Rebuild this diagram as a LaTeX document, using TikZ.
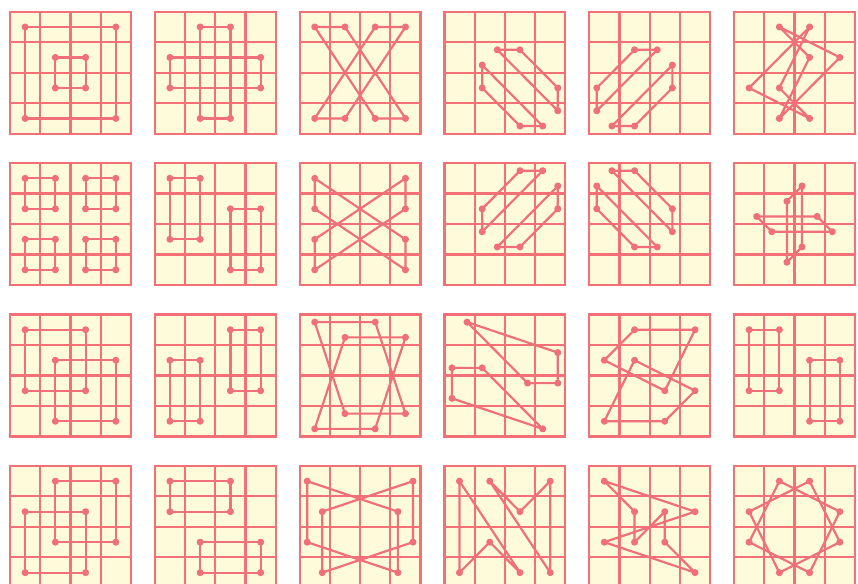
\documentclass[tikz,border=0pt]{standalone}
\usepackage{tikz}
\usepackage{xcolor}
\definecolor{paper}{RGB}{254,251,218}
\definecolor{gridred}{RGB}{242,112,118}
\definecolor{figred}{RGB}{240,112,120}
% one squared panel: column, row, figures (quarter-cell units, y downwards)
\newcommand{\panel}[3]{%
  \begin{scope}[shift={(10+144.8*#1,11.7+151.4*#2)}]
  \begin{scope}[x=0.15125cm,y=-0.1525cm]
    \fill[paper] (0,0) rectangle (16,16);
    \foreach \k in {0,4,8,12,16} {
      \draw[gridline] (\k,0) -- (\k,16);
      \draw[gridline] (0,\k) -- (16,\k);
    }
    #3
  \end{scope}
  \end{scope}}
\newcommand{\poly}[1]{\draw[figline] plot[mark=*] coordinates {#1} -- cycle;}

\begin{document}
\begin{tikzpicture}[
  x=0.02cm, y=-0.02cm,
  gridline/.style={draw=gridred, line width=1.25pt, line cap=rect},
  figline/.style={color=figred, line width=1.25pt, line join=round, mark size=1.35pt}
]
\useasboundingbox (0,0) rectangle (858,584);
\clip (0,0) rectangle (858,584);
\fill[white] (0,0) rectangle (858,584);

% row 1
\panel{0}{0}{\poly{(2,2) (14,2) (14,14) (2,14)}\poly{(6,6) (10,6) (10,10) (6,10)}}
\panel{1}{0}{\poly{(6,2) (10,2) (10,14) (6,14)}\poly{(2,6) (14,6) (14,10) (2,10)}}
\panel{2}{0}{\poly{(2,2) (6,2) (14,14) (10,14)}\poly{(10,2) (14,2) (6,14) (2,14)}}
\panel{3}{0}{\poly{(7,5) (10,5) (15,10) (15,13)}\poly{(5,7) (5,10) (10,15) (13,15)}}
\panel{4}{0}{\poly{(6,5) (9,5) (1,13) (1,10)}\poly{(11,7) (11,10) (6,15) (3,15)}}
\panel{5}{0}{\poly{(6,2) (14,6) (6,14) (10,6)}\poly{(10,2) (2,10) (10,14) (6,10)}}

% row 2
\panel{0}{1}{\poly{(2,2) (6,2) (6,6) (2,6)}\poly{(10,2) (14,2) (14,6) (10,6)}
  \poly{(2,10) (6,10) (6,14) (2,14)}\poly{(10,10) (14,10) (14,14) (10,14)}}
\panel{1}{1}{\poly{(2,2) (6,2) (6,10) (2,10)}\poly{(10,6) (14,6) (14,14) (10,14)}}
\panel{2}{1}{\poly{(2,2) (2,6) (14,14) (14,10)}\poly{(2,10) (2,14) (14,6) (14,2)}}
\panel{3}{1}{\poly{(10,1) (13,1) (5,9) (5,6)}\poly{(15,3) (15,6) (10,11) (7,11)}}
\panel{4}{1}{\poly{(3,1) (6,1) (11,6) (11,9)}\poly{(1,3) (1,6) (6,11) (9,11)}}
\panel{5}{1}{\poly{(9,3) (9,11) (7,13) (7,5)}\poly{(3,7) (11,7) (13,9) (5,9)}}

% row 3
\panel{0}{2}{\poly{(2,2) (10,2) (10,10) (2,10)}\poly{(6,6) (14,6) (14,14) (6,14)}}
\panel{1}{2}{\poly{(2,6) (6,6) (6,14) (2,14)}\poly{(10,2) (14,2) (14,10) (10,10)}}
\panel{2}{2}{\poly{(2,1) (10,1) (14,13) (6,13)}\poly{(6,3) (14,3) (10,15) (2,15)}}
\panel{3}{2}{\poly{(3,1) (15,5) (15,9) (11,9)}\poly{(1,7) (5,7) (13,15) (1,11)}}
\panel{4}{2}{\poly{(6,2) (14,2) (10,10) (2,6)}\poly{(6,6) (14,10) (10,14) (2,14)}}
\panel{5}{2}{\poly{(2,2) (6,2) (6,10) (2,10)}\poly{(10,6) (14,6) (14,14) (10,14)}}

% row 4
\panel{0}{3}{\poly{(6,2) (14,2) (14,10) (6,10)}\poly{(2,6) (10,6) (10,14) (2,14)}}
\panel{1}{3}{\poly{(2,2) (10,2) (10,6) (2,6)}\poly{(6,10) (14,10) (14,14) (6,14)}}
\panel{2}{3}{\poly{(15,2) (15,10) (3,14) (3,6)}\poly{(1,2) (13,6) (13,14) (1,10)}}
\panel{3}{3}{\poly{(2,2) (10,14) (6,10) (2,14)}\poly{(14,14) (6,2) (10,6) (14,2)}}
\panel{4}{3}{\poly{(2,2) (14,6) (2,10) (14,14) (10,10) (10,6) (6,10) (6,6)}}
\panel{5}{3}{\poly{(6,2) (14,6) (10,14) (2,10)}\poly{(10,2) (14,10) (6,14) (2,6)}}
\end{tikzpicture}
\end{document}
